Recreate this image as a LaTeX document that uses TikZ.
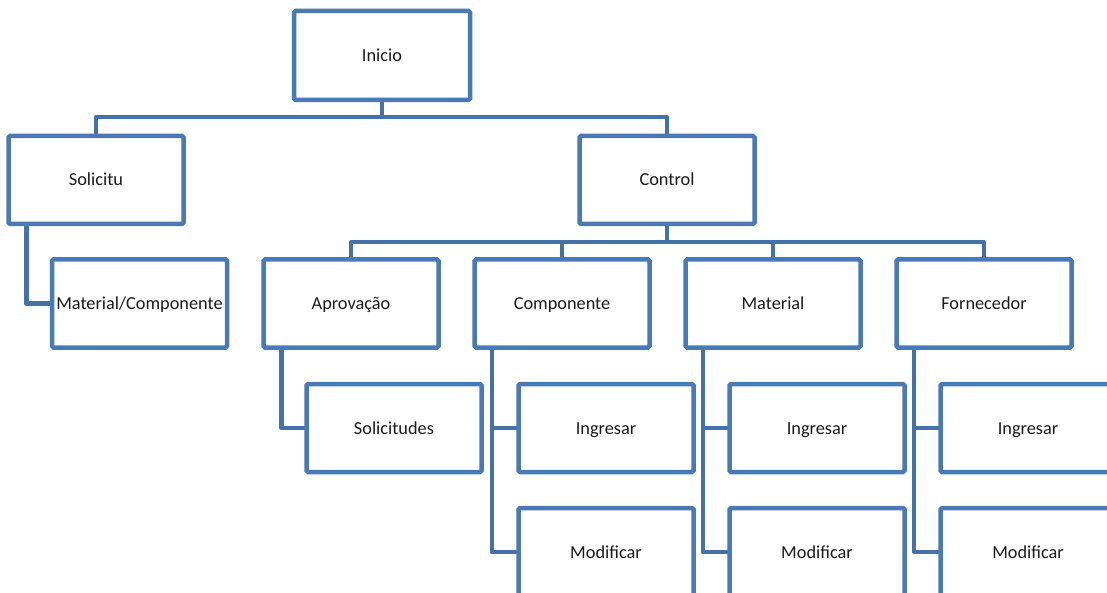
\documentclass[tikz,border=0pt]{standalone}
\usepackage{fontspec}
\setmainfont{Carlito}
\usetikzlibrary{backgrounds}
\definecolor{boxblue}{HTML}{4A7AB5}
\definecolor{linkblue}{HTML}{4472A8}
\definecolor{ink}{HTML}{1A1A1A}
\tikzset{
  orgbox/.style={draw=boxblue, line width=4.5pt, fill=white, rounded corners=1.5pt,
    minimum width=175pt, minimum height=88pt, inner sep=0pt, outer sep=0pt,
    text height=15pt, text depth=3pt,
    text=ink, font=\fontsize{18.3}{22}\selectfont},
  link/.style={draw=linkblue, line width=4.5pt, line join=round}
}
\begin{document}
\begin{tikzpicture}[x=1pt,y=-1pt]
\useasboundingbox (0,0) rectangle (1107,593);
\clip (0,0) rectangle (1107,593);

% top level
\node[orgbox, minimum width=176pt, minimum height=89pt] (inicio) at (382,55.5) {Inicio};
\node[orgbox] (solicitu) at (96,180) {Solicitu};
\node[orgbox] (control) at (667,180) {Control};

% second level
\node[orgbox] (matcomp) at (139.5,303.5) {Material/Componente};
\node[orgbox] (aprov) at (351,303.5) {Aprovação};
\node[orgbox] (comp) at (562,303.5) {Componente};
\node[orgbox] (mat) at (773,303.5) {Material};
\node[orgbox] (fornec) at (984,303.5) {Fornecedor};

% third level
\node[orgbox] (solicitudes) at (394,428) {Solicitudes};
\node[orgbox] (ing1) at (606,428) {Ingresar};
\node[orgbox] (mod1) at (606,552) {Modificar};
\node[orgbox] (ing2) at (817,428) {Ingresar};
\node[orgbox] (mod2) at (817,552) {Modificar};
\node[orgbox] (ing3) at (1028,428) {Ingresar};
\node[orgbox] (mod3) at (1028,552) {Modificar};

\begin{scope}[on background layer]
  \fill[white] (0,0) rectangle (1107,593);
  % bus below Inicio
  \coordinate (bus1) at (382,117);
  \draw[link] (inicio.south) -- (bus1);
  \draw[link] (solicitu.north) |- (bus1) -| (control.north);
  % bus below Control
  \coordinate (bus2) at (667,242);
  \draw[link] (control.south) -- (bus2);
  \draw[link] (aprov.north) |- (bus2) -| (fornec.north);
  \draw[link] (comp.north) -- (comp.north |- bus2);
  \draw[link] (mat.north) -- (mat.north |- bus2);
  % side branches
  \draw[link] ([xshift=18pt]solicitu.south west) |- (matcomp.west);
  \draw[link] ([xshift=18pt]aprov.south west) |- (solicitudes.west);
  \draw[link] ([xshift=17.5pt]comp.south west) |- (mod1.west);
  \draw[link] ([xshift=17.5pt]comp.south west) |- (ing1.west);
  \draw[link] ([xshift=17.5pt]mat.south west) |- (mod2.west);
  \draw[link] ([xshift=17.5pt]mat.south west) |- (ing2.west);
  \draw[link] ([xshift=17.5pt]fornec.south west) |- (mod3.west);
  \draw[link] ([xshift=17.5pt]fornec.south west) |- (ing3.west);
\end{scope}
\end{tikzpicture}
\end{document}
